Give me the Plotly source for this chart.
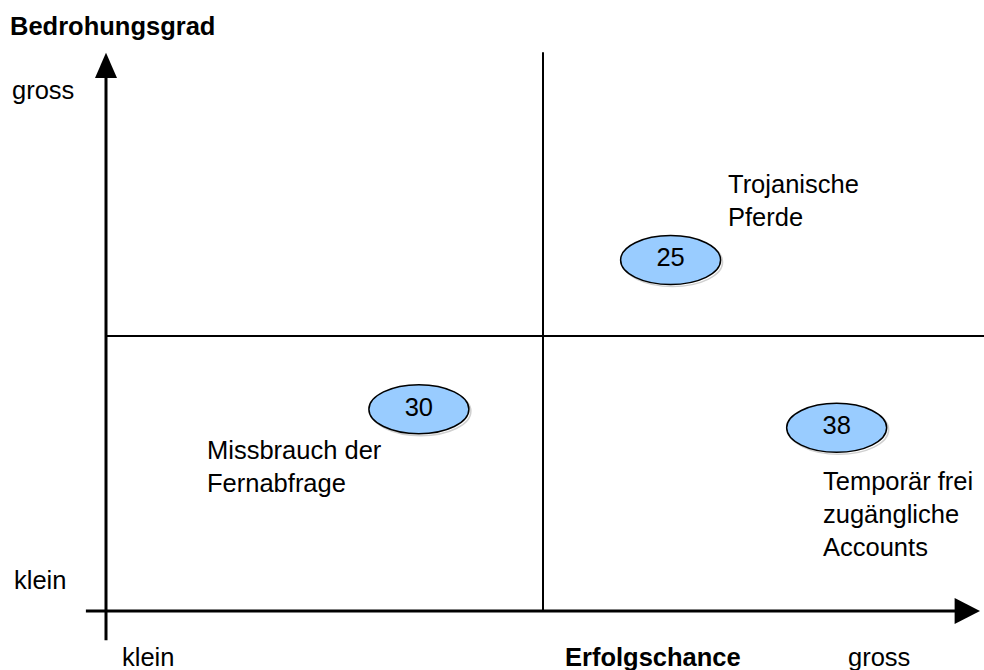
import plotly.graph_objects as go

# ---- data ----
risk_ids = ["25", "30", "38"]
erfolgschance = [6.46, 3.58, 8.36]     # x: Erfolgschance (0 = klein, 10 = gross)
bedrohungsgrad = [6.38, 3.67, 3.33]    # y: Bedrohungsgrad (0 = klein, 10 = gross)
risk_names = ["Trojanische<br>Pferde", "Missbrauch der<br>Fernabfrage",
              "Temporär frei<br>zugängliche<br>Accounts"]
x_title = "Erfolgschance"
y_title = "Bedrohungsgrad"
scale_low = "klein"
scale_high = "gross"

W, H = 984, 670
X0, XPX = 106, 87.4   # pixel of x=0, px per unit
Y0, YPX = 611, 55.0   # pixel of y=0, px per unit
xr = [-X0 / XPX, (W - X0) / XPX]
yr = [-(H - Y0) / YPX, Y0 / YPX]

FONT = "Liberation Sans, Arial, Helvetica, sans-serif"
FS = 25.5

# label offsets (pixels) relative to marker centre
label_dx = [55, -214, -16]
label_dy = [-76, 41, 53]

fig = go.Figure()
fig.add_trace(go.Scatter(x=erfolgschance, y=bedrohungsgrad, mode="text",
                         text=risk_ids, textfont=dict(family=FONT, size=FS, color="black"),
                         hoverinfo="skip", showlegend=False))

shapes = []
line_col = "black"
# axis lines
shapes.append(dict(type="line", xref="x", yref="y", x0=0, x1=0, y0=-0.53, y1=9.75,
                   line=dict(color=line_col, width=3)))
shapes.append(dict(type="line", xref="x", yref="y", x0=-0.23, x1=9.75, y0=0, y1=0,
                   line=dict(color=line_col, width=3)))
# arrowheads
shapes.append(dict(type="path", xref="x", yref="y",
                   path="M -0.126 9.69 L 0 10.15 L 0.126 9.69 Z",
                   fillcolor="black", line=dict(width=0)))
shapes.append(dict(type="path", xref="x", yref="y",
                   path="M 9.71 0.236 L 10.0 0 L 9.71 -0.236 Z",
                   fillcolor="black", line=dict(width=0)))
# quadrant lines
shapes.append(dict(type="line", xref="x", yref="y", x0=5, x1=5, y0=0, y1=10.16,
                   line=dict(color=line_col, width=2)))
shapes.append(dict(type="line", xref="x", yref="y", x0=0, x1=xr[1], y0=5, y1=5,
                   line=dict(color=line_col, width=2)))

# ellipses
RX, RY = 50 / XPX, 24.5 / YPX
sx, sy = 2 / XPX, 2 / YPX
for x, y in zip(erfolgschance, bedrohungsgrad):
    shapes.append(dict(type="circle", xref="x", yref="y",
                       x0=x - RX + sx, x1=x + RX + sx, y0=y - RY - sy, y1=y + RY - sy,
                       line=dict(color="#d0d0d0", width=1.5), fillcolor="rgba(0,0,0,0)",
                       layer="below"))
    shapes.append(dict(type="circle", xref="x", yref="y",
                       x0=x - RX, x1=x + RX, y0=y - RY, y1=y + RY,
                       line=dict(color="black", width=1.5), fillcolor="#99ccff",
                       layer="below"))

annotations = []
for x, y, name, dx, dy in zip(erfolgschance, bedrohungsgrad, risk_names, label_dx, label_dy):
    annotations.append(dict(x=x, y=y, xref="x", yref="y", text=name, showarrow=False,
                            xanchor="left", yanchor="top", align="left",
                            xshift=dx, yshift=-(dy - 16),
                            font=dict(family=FONT, size=FS, color="black")))

def ann(px, py, text, anchor="left", bold=False):
    annotations.append(dict(x=px / W, y=1 - py / H, xref="paper", yref="paper",
                            text=f"<b>{text}</b>" if bold else text, showarrow=False,
                            xanchor=anchor, yanchor="middle",
                            font=dict(family=FONT, size=FS, color="black")))

ann(8, 26, y_title, bold=True)
ann(10, 90, scale_high)
ann(12, 580, scale_low)
ann(120, 657, scale_low)
ann(653, 657, x_title, anchor="center", bold=True)
ann(846, 657, scale_high)

fig.update_layout(
    width=W, height=H, margin=dict(l=0, r=0, t=0, b=0),
    paper_bgcolor="white", plot_bgcolor="white",
    xaxis=dict(range=xr, visible=False, fixedrange=True),
    yaxis=dict(range=yr, visible=False, fixedrange=True),
    shapes=shapes, annotations=annotations, showlegend=False,
)
fig.write_html("out.html", config={"displayModeBar": False},
               post_script="document.body.style.margin='0';document.body.style.overflow='hidden';")
